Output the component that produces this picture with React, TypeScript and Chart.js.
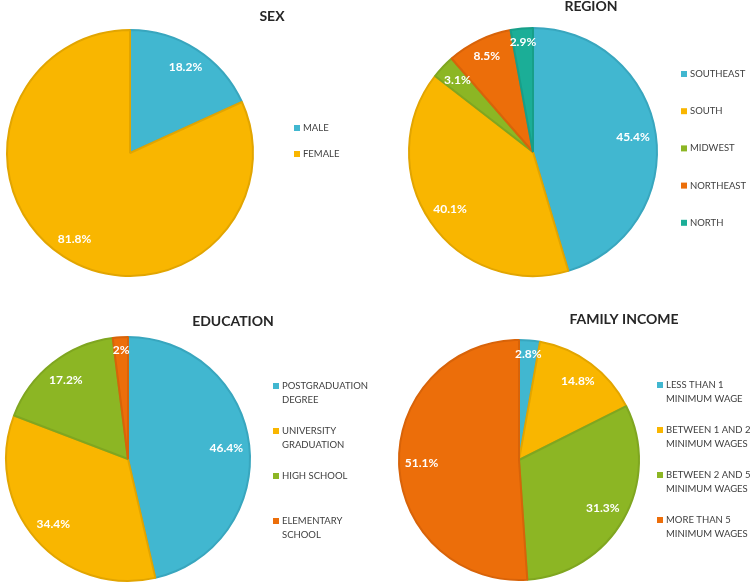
import React, { useEffect, useRef } from "react";
import { Chart, registerables } from "chart.js";

Chart.register(...registerables);

// ---- data ----
const sexLabels = [["MALE"], ["FEMALE"]];
const sexValues = [18.2, 81.8];

const regionLabels = [["SOUTHEAST"], ["SOUTH"], ["MIDWEST"], ["NORTHEAST"], ["NORTH"]];
const regionValues = [45.4, 40.1, 3.1, 8.5, 2.9];

const educationLabels = [
  ["POSTGRADUATION", "DEGREE"],
  ["UNIVERSITY", "GRADUATION"],
  ["HIGH SCHOOL"],
  ["ELEMENTARY", "SCHOOL"],
];
const educationValues = [46.4, 34.4, 17.2, 2];

const incomeLabels = [
  ["LESS THAN 1", "MINIMUM WAGE"],
  ["BETWEEN 1 AND 2", "MINIMUM WAGES"],
  ["BETWEEN 2 AND 5", "MINIMUM WAGES"],
  ["MORE THAN 5", "MINIMUM WAGES"],
];
const incomeValues = [2.8, 14.8, 31.3, 51.1];

// ---- styles ----
const FILL = ["#41b7d0", "#f9b600", "#8cb624", "#ec6e0a", "#1bae97"];
const BORDER = ["#38a6be", "#e2a500", "#7fa620", "#d86309", "#179f89"];
const FONT = "Lato, 'Open Sans', sans-serif";

type Panel = {
  title: string;
  labels: string[][];
  values: number[];
  left: number;
  top: number;
  width: number;
  height: number;
  cx: number;
  cy: number;
  r: number;
  titleX: number;
  titleY: number;
  legendX: number;
  legendY: number;
  legendStep: number;
};

const panels: Panel[] = [
  {
    title: "SEX", labels: sexLabels, values: sexValues,
    left: 0, top: 0, width: 376, height: 293,
    cx: 130, cy: 153, r: 123,
    titleX: 272, titleY: 16, legendX: 303, legendY: 128, legendStep: 26,
  },
  {
    title: "REGION", labels: regionLabels, values: regionValues,
    left: 376, top: 0, width: 377, height: 293,
    cx: 533, cy: 152, r: 124,
    titleX: 591, titleY: 6, legendX: 690, legendY: 74, legendStep: 37.2,
  },
  {
    title: "EDUCATION", labels: educationLabels, values: educationValues,
    left: 0, top: 293, width: 376, height: 293,
    cx: 128, cy: 459, r: 122,
    titleX: 233, titleY: 321, legendX: 282, legendY: 386, legendStep: 45,
  },
  {
    title: "FAMILY INCOME", labels: incomeLabels, values: incomeValues,
    left: 376, top: 293, width: 377, height: 293,
    cx: 519, cy: 460, r: 120,
    titleX: 624, titleY: 319, legendX: 666, legendY: 385, legendStep: 45,
  },
];

const decoPlugin = {
  id: "panelDeco",
  afterDatasetsDraw(chart: any, _args: any, opts: any) {
    const p: Panel = opts.panel;
    const ctx = chart.ctx;
    const meta = chart.getDatasetMeta(0);
    ctx.save();
    // data labels
    ctx.font = `bold 12px ${FONT}`;
    ctx.fillStyle = "#ffffff";
    ctx.textAlign = "center";
    ctx.textBaseline = "middle";
    meta.data.forEach((arc: any, i: number) => {
      const { x, y, startAngle, endAngle, outerRadius } = arc.getProps(
        ["x", "y", "startAngle", "endAngle", "outerRadius"], true);
      const mid = (startAngle + endAngle) / 2;
      const ux = Math.cos(mid);
      const uy = Math.sin(mid);
      const text = `${p.values[i]}%`;
      const hw = ctx.measureText(text).width / 2 + 2;
      const hh = 8;
      const lim = outerRadius - 3;
      let d = 0;
      for (let t = lim; t > 0; t -= 0.5) {
        const qx = t * ux + Math.sign(ux) * hw;
        const qy = t * uy + Math.sign(uy) * hh;
        if (Math.hypot(qx, qy) <= lim) { d = t; break; }
      }
      ctx.fillText(text, x + d * ux, y + d * uy);
    });

    // title
    ctx.font = `bold 14px ${FONT}`;
    ctx.fillStyle = "#262626";
    ctx.fillText(p.title, p.titleX - p.left, p.titleY - p.top);

    // legend
    ctx.font = `9.5px ${FONT}`;
    ctx.textAlign = "left";
    p.labels.forEach((lines, i) => {
      const y0 = p.legendY - p.top + i * p.legendStep;
      const x0 = p.legendX - p.left;
      ctx.fillStyle = FILL[i];
      ctx.fillRect(x0 - 9, y0 - 3, 6, 6);
      ctx.fillStyle = "#404040";
      lines.forEach((line, j) => {
        ctx.fillText(line, x0, y0 + j * 13.5);
      });
    });
    ctx.restore();
  },
};

function PieCanvas({ panel }: { panel: Panel }) {
  const ref = useRef<HTMLCanvasElement | null>(null);
  useEffect(() => {
    if (!ref.current) return;
    const lx = panel.cx - panel.left;
    const ly = panel.cy - panel.top;
    const R = Math.min(lx, panel.width - lx, ly, panel.height - ly);
    const n = panel.values.length;
    const chart = new Chart(ref.current, {
      type: "pie",
      data: {
        labels: panel.labels,
        datasets: [
          {
            data: panel.values,
            backgroundColor: FILL.slice(0, n),
            borderColor: BORDER.slice(0, n),
            borderWidth: 2,
          },
        ],
      },
      options: {
        responsive: false,
        animation: false,
        events: [],
        radius: panel.r,
        layout: {
          padding: {
            left: lx - R,
            right: panel.width - lx - R,
            top: ly - R,
            bottom: panel.height - ly - R,
          },
        },
        plugins: {
          legend: { display: false },
          title: { display: false },
          tooltip: { enabled: false },
          panelDeco: { panel },
        } as any,
      } as any,
      plugins: [decoPlugin as any],
    });
    return () => chart.destroy();
  }, [panel]);
  return (
    <canvas
      ref={ref}
      width={panel.width}
      height={panel.height}
      style={{
        position: "absolute",
        left: panel.left,
        top: panel.top,
        width: panel.width,
        height: panel.height,
        display: "block",
      }}
    />
  );
}

export default function App() {
  return (
    <div
      style={{
        position: "absolute",
        left: 0,
        top: 0,
        width: 753,
        height: 586,
        background: "#ffffff",
        overflow: "hidden",
      }}
    >
      {panels.map((p) => (
        <PieCanvas key={p.title} panel={p} />
      ))}
    </div>
  );
}
